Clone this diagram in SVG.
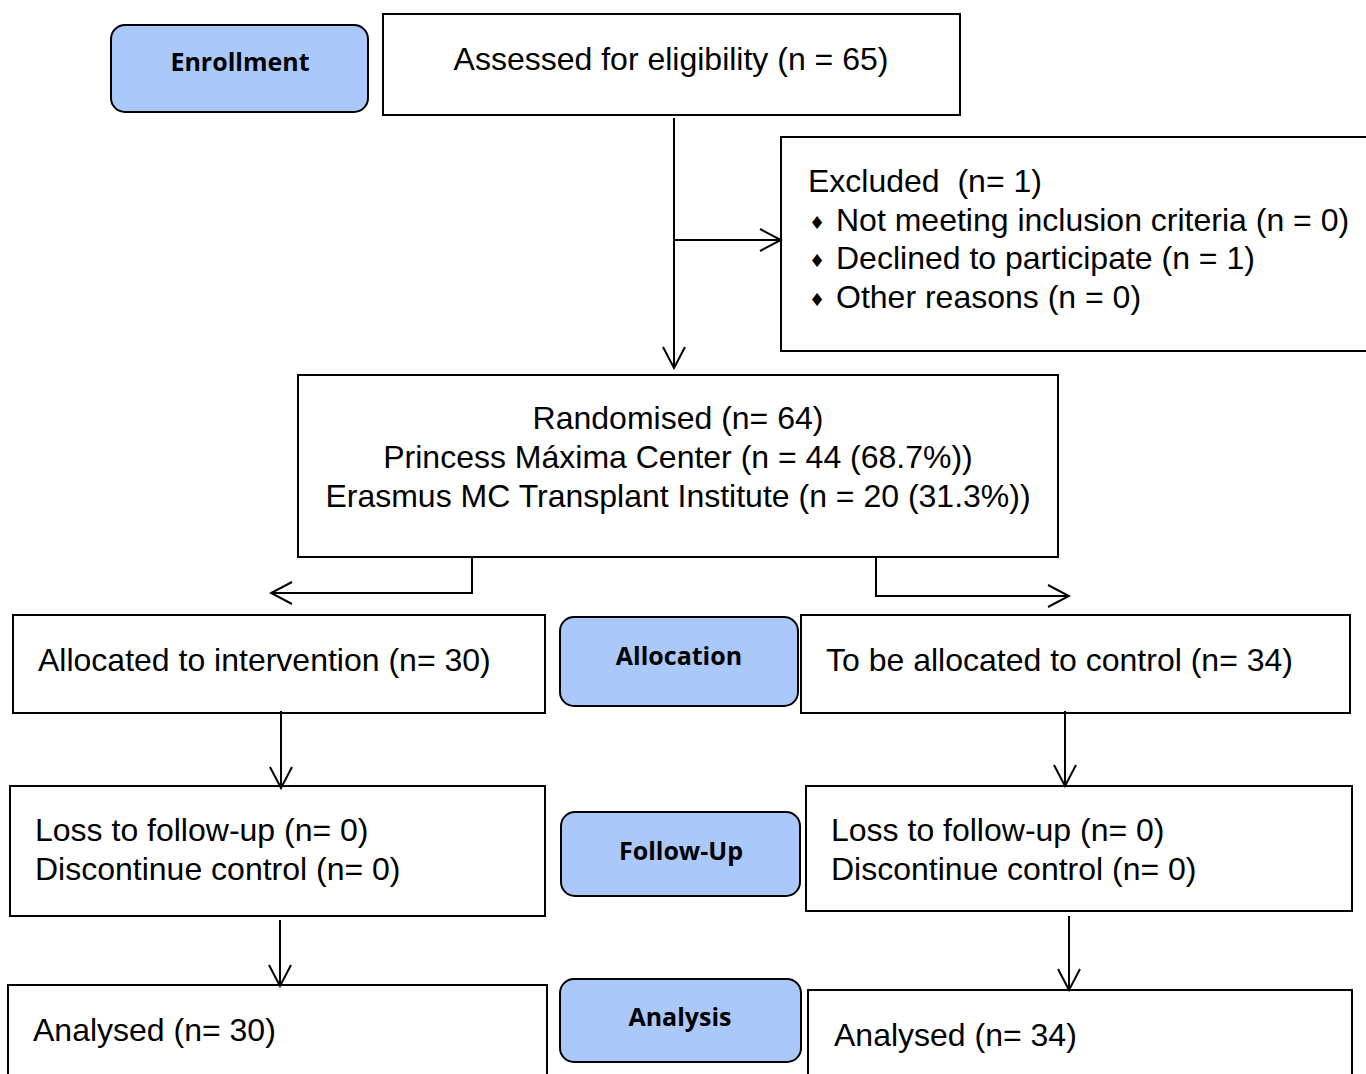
<svg xmlns="http://www.w3.org/2000/svg" width="1366" height="1074" viewBox="0 0 1366 1074">
<defs>
<marker id="arr" markerWidth="24" markerHeight="24" refX="22" refY="12" orient="auto" markerUnits="userSpaceOnUse">
<path d="M1,1 L22,12 L1,23" fill="none" stroke="#000" stroke-width="2"/>
</marker>
<style>
.box{fill:#fff;stroke:#000;stroke-width:2}
.ph{fill:#aac8fa;stroke:#000;stroke-width:2}
.t{font-family:"Liberation Sans",Arial,sans-serif;font-size:32px;fill:#000}
.b{font-family:"DejaVu Sans",sans-serif;font-size:18px;fill:#000}
.p{font-family:"Open Sans","DejaVu Sans",sans-serif;font-size:25px;font-weight:bold;fill:#000;text-anchor:middle}
.c{fill:none;stroke:#000;stroke-width:2}
</style>
</defs>
<rect width="1366" height="1074" fill="#fff"/>
<g id="enrollment"><rect class="ph" x="111" y="25" width="257" height="87" rx="14"/><text class="p" x="240" y="71">Enrollment</text></g>
<g id="assessed"><rect class="box" x="383" y="14" width="577" height="101"/><text class="t" x="671" y="70" text-anchor="middle">Assessed for eligibility (n = 65)</text></g>
<g id="excluded"><rect class="box" x="781" y="137" width="600" height="214"/>
<text class="t" x="808" y="192" xml:space="preserve">Excluded  (n= 1)</text>
<text class="b" x="809" y="229">♦</text><text class="t" x="836" y="231">Not meeting inclusion criteria (n = 0)</text>
<text class="b" x="809" y="267">♦</text><text class="t" x="836" y="269">Declined to participate (n = 1)</text>
<text class="b" x="809" y="306">♦</text><text class="t" x="836" y="308">Other reasons (n = 0)</text>
</g>
<g id="randomised"><rect class="box" x="298" y="375" width="760" height="182"/>
<text class="t" x="678" y="429" text-anchor="middle">Randomised (n= 64)</text>
<text class="t" x="678" y="468" text-anchor="middle">Princess Máxima Center (n = 44 (68.7%))</text>
<text class="t" x="678" y="507" text-anchor="middle">Erasmus MC Transplant Institute (n = 20 (31.3%))</text>
</g>
<g id="alloc-int"><rect class="box" x="13" y="615" width="532" height="98"/><text class="t" x="38" y="671">Allocated to intervention (n= 30)</text></g>
<g id="allocation"><rect class="ph" x="560" y="617" width="238" height="89" rx="14"/><text class="p" x="679" y="665">Allocation</text></g>
<g id="alloc-ctrl"><rect class="box" x="801" y="615" width="549" height="98"/><text class="t" x="826" y="671">To be allocated to control (n= 34)</text></g>
<g id="loss-int"><rect class="box" x="10" y="786" width="535" height="130"/>
<text class="t" x="35" y="841">Loss to follow-up (n= 0)</text>
<text class="t" x="35" y="880">Discontinue control (n= 0)</text></g>
<g id="followup"><rect class="ph" x="561" y="812" width="239" height="84" rx="14"/><text class="p" x="681" y="860">Follow-Up</text></g>
<g id="loss-ctrl"><rect class="box" x="806" y="786" width="546" height="125"/>
<text class="t" x="831" y="841">Loss to follow-up (n= 0)</text>
<text class="t" x="831" y="880">Discontinue control (n= 0)</text></g>
<g id="anal-int"><rect class="box" x="8" y="985" width="539" height="110"/><text class="t" x="33" y="1041">Analysed (n= 30)</text></g>
<g id="analysis"><rect class="ph" x="560" y="979" width="241" height="83" rx="14"/><text class="p" x="680" y="1026">Analysis</text></g>
<g id="anal-ctrl"><rect class="box" x="808" y="990" width="544" height="105"/><text class="t" x="834" y="1046">Analysed (n= 34)</text></g>
<g id="connectors">
<path class="c" d="M674,118 V368" marker-end="url(#arr)"/>
<path class="c" d="M674,240 H781" marker-end="url(#arr)"/>
<path class="c" d="M472,557 V593 H271" marker-end="url(#arr)"/>
<path class="c" d="M876,557 V596 H1069" marker-end="url(#arr)"/>
<path class="c" d="M281,711 V788" marker-end="url(#arr)"/>
<path class="c" d="M1065,711 V786" marker-end="url(#arr)"/>
<path class="c" d="M280,920 V986" marker-end="url(#arr)"/>
<path class="c" d="M1069,916 V990" marker-end="url(#arr)"/>
</g>
</svg>
